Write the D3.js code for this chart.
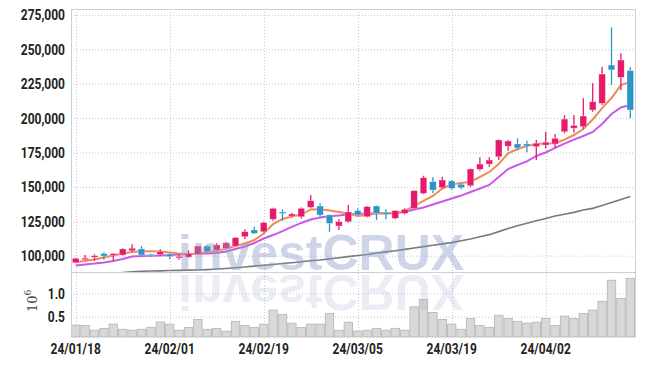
<!DOCTYPE html>
<html><head><meta charset="utf-8">
<script src="https://cdn.jsdelivr.net/npm/d3@7"></script>
<style>body{margin:0;background:#fff}svg{display:block}</style>
</head><body><svg id="c" width="645" height="366"></svg>
<script>
const dates = ["2024-01-18","2024-01-19","2024-01-22","2024-01-23","2024-01-24","2024-01-25","2024-01-26","2024-01-29","2024-01-30","2024-01-31",
"2024-02-01","2024-02-02","2024-02-05","2024-02-06","2024-02-07","2024-02-08","2024-02-13","2024-02-14","2024-02-15","2024-02-16",
"2024-02-19","2024-02-20","2024-02-21","2024-02-22","2024-02-23","2024-02-26","2024-02-27","2024-02-28","2024-02-29","2024-03-04",
"2024-03-05","2024-03-06","2024-03-07","2024-03-08","2024-03-11","2024-03-12","2024-03-13","2024-03-14","2024-03-15","2024-03-18",
"2024-03-19","2024-03-20","2024-03-21","2024-03-22","2024-03-25","2024-03-26","2024-03-27","2024-03-28","2024-03-29","2024-04-01",
"2024-04-02","2024-04-03","2024-04-04","2024-04-05","2024-04-08","2024-04-09","2024-04-11","2024-04-12","2024-04-15","2024-04-16"];
const open  = [94900,97200,99300,101500,100500,100500,103600,104900,101000,100700,101200,98800,99000,101000,107000,104100,105400,107000,113800,118700,117400,126500,131800,128800,128300,135200,136100,129600,121600,124700,132700,128300,136100,131200,127200,130800,134400,145300,153800,149400,154300,151900,150900,162800,166600,171900,179600,181200,181200,179200,180400,181200,190100,192700,193800,205900,210700,238600,229600,234500];
const high  = [98500,100500,101000,102500,102000,105500,108300,107000,101500,104700,101800,101000,103900,107500,107500,109000,110200,113500,119200,121100,124500,134800,133700,131200,135000,144100,138100,130000,126500,136800,134400,136100,136500,133700,133000,134400,147500,158100,157000,157400,155000,152500,163300,171500,171500,184500,184100,185300,183600,184100,190100,188400,202200,202200,214400,225300,237300,266000,247100,236900];
const low   = [94500,96800,96500,97100,96200,100000,103000,99500,99000,100000,97400,97000,98500,100500,102500,103500,105000,106500,112100,115800,117000,125400,125400,128000,127000,134500,128500,117400,118700,124000,129000,127800,125900,126500,126500,130000,133700,144600,145300,148700,148000,148300,150000,161800,164700,169500,176300,176800,175100,169500,178000,178000,189000,189400,191900,204600,209500,224000,220400,199800];
const close = [98100,98200,100000,99800,101500,104900,105400,100500,100000,102900,99300,99500,101700,107000,102900,107800,109400,113100,117400,116300,124000,134400,130800,130300,134400,140000,129600,123500,124700,131800,129600,135600,130800,130100,132700,133700,147200,156700,147700,155000,149000,149400,163000,166600,169500,184100,183300,178300,179700,181700,182400,185300,199300,194700,201500,211900,232000,235000,242200,205900];
const volume = [320000,310000,210000,250000,340000,230000,210000,230000,270000,385000,340000,210000,270000,440000,230000,250000,190000,400000,310000,270000,340000,640000,550000,360000,270000,340000,340000,570000,210000,380000,190000,210000,250000,210000,250000,210000,710000,870000,590000,440000,340000,230000,460000,310000,270000,530000,460000,400000,360000,380000,460000,310000,510000,460000,570000,640000,830000,1280000,890000,1320000];
const ma5  = [95400,96100,97200,98700,100100,101600,102700,103200,103200,103000,102300,101600,101200,101600,102700,103400,105200,107000,108900,111400,116100,123000,126700,128500,129900,133600,133700,132800,131800,130700,128800,129600,130700,130800,130800,132500,136100,139800,143400,148800,151700,152800,153800,157200,160800,166600,174400,177500,179700,181200,181500,181700,184400,187700,192100,199000,207300,214600,224000,226200];
const ma20 = [92900,93600,94300,95100,96100,97600,99400,99800,100000,100100,100500,100900,101100,101400,101600,102000,103100,104900,106700,109200,112500,115000,117900,120900,123800,126300,127800,128600,129200,129900,130300,130700,130800,130800,130800,131800,133600,135000,137200,139400,141600,143700,146300,148800,151400,157200,163000,165900,168500,172500,175000,178300,181500,184400,187000,189900,195700,203000,207700,209500];
const ma60 = [85200,85700,86200,86700,87200,87700,88300,88700,88900,89000,89200,89300,89500,89600,89900,90300,90700,91200,91800,92400,93000,93600,94300,94900,95600,96300,96900,97700,98500,99300,100100,100900,101900,102800,103600,104600,105600,106600,107600,108600,109500,110800,112100,113700,115300,117500,119800,121800,123600,125400,127100,128800,130100,131500,133200,134400,136500,138700,140800,143000];
const priceTicks = [100000,125000,150000,175000,200000,225000,250000,275000];
const volumeTicks = [500000,1000000];
const xTickDates = ["2024-01-18","2024-02-01","2024-02-19","2024-03-05","2024-03-19","2024-04-02"];

const svg = d3.select("#c");
const L = 71, R = 635, T = 9, SEP = 272, B = 337;
const x = d3.scaleBand().domain(dates).range([L, R]).padding(0);
const bw = x.bandwidth();
const cx = d => x(d) + bw / 2;
const y = d3.scaleLinear().domain([88150, 279290]).range([SEP, T]);
const yv = d3.scaleLinear().domain([64000, 1456000]).range([B, SEP]);
const UP = "#e61a6b", DOWN = "#2d94c6";
const gridC = "#c3c7d6";

svg.append("defs").append("clipPath").attr("id","pc")
  .append("rect").attr("x",L).attr("y",T).attr("width",R-L).attr("height",SEP-T);

// grid
const g = svg.append("g");
g.selectAll(".hg").data(priceTicks).join("line")
  .attr("x1",L).attr("x2",R).attr("y1",d=>y(d)+0.5).attr("y2",d=>y(d)+0.5)
  .attr("stroke",gridC).attr("stroke-dasharray","1,2");
g.selectAll(".vg").data(volumeTicks).join("line")
  .attr("x1",L).attr("x2",R).attr("y1",d=>yv(d)+0.5).attr("y2",d=>yv(d)+0.5)
  .attr("stroke",gridC).attr("stroke-dasharray","1,2");
g.selectAll(".xg").data(xTickDates).join("line")
  .attr("x1",d=>Math.round(cx(d))+0.5).attr("x2",d=>Math.round(cx(d))+0.5).attr("y1",T).attr("y2",B)
  .attr("stroke",gridC).attr("stroke-dasharray","1,2");

// volume bars
svg.append("g").selectAll("rect").data(dates).join("rect")
  .attr("x",d=>x(d)+0.5).attr("width",bw-1)
  .attr("y",(d,i)=>yv(volume[i])).attr("height",(d,i)=>B-yv(volume[i]))
  .attr("fill","#d8d8d8").attr("stroke","#b4b4b4").attr("stroke-width",0.8);

// MAs
const pg = svg.append("g").attr("clip-path","url(#pc)");
const line = arr => d3.line().x((d,i)=>cx(dates[i])).y(d=>y(d))(arr);
pg.append("path").attr("d",line(ma60)).attr("fill","none").attr("stroke","#7a7a7a").attr("stroke-width",1.6);
pg.append("path").attr("d",line(ma20)).attr("fill","none").attr("stroke","#c95ae6").attr("stroke-width",2);
pg.append("path").attr("d",line(ma5)).attr("fill","none").attr("stroke","#ee8a55").attr("stroke-width",2);

// candles
const cg = pg.append("g");
dates.forEach((d,i)=>{
  const col = close[i] >= open[i] ? UP : DOWN;
  const xc = cx(d);
  cg.append("line").attr("x1",xc).attr("x2",xc).attr("y1",y(high[i])).attr("y2",y(low[i]))
    .attr("stroke",col).attr("stroke-width",1.3);
  const top = y(Math.max(open[i],close[i])), bot = y(Math.min(open[i],close[i]));
  cg.append("rect").attr("x",xc-3.3).attr("width",6.6).attr("y",top).attr("height",Math.max(1.5,bot-top))
    .attr("fill",col).attr("stroke","rgba(255,255,255,0.5)").attr("stroke-width",0.6);
});

// watermark (reflection clipped to below the separator)
svg.select("defs").append("clipPath").attr("id","rc")
  .append("rect").attr("x",0).attr("y",SEP+1).attr("width",645).attr("height",60);
const wm = svg.append("g").attr("font-family","Liberation Sans, Arial, sans-serif").attr("font-weight","bold").attr("font-size",50);
wm.append("text").attr("x",178).attr("y",270).text("investCRUX").attr("fill","rgba(140,155,200,0.42)");
wm.append("g").attr("clip-path","url(#rc)").append("text").attr("x",178).attr("y",-275).attr("transform","scale(1,-1)")
  .text("investCRUX").attr("fill","rgba(150,160,200,0.2)");

// frame
const fr = svg.append("g").attr("stroke","#cfcfcf").attr("fill","none");
fr.append("line").attr("x1",L).attr("x2",R).attr("y1",T+0.5).attr("y2",T+0.5);
fr.append("line").attr("x1",L).attr("x2",R).attr("y1",SEP+0.5).attr("y2",SEP+0.5);
fr.append("line").attr("x1",L+0.5).attr("x2",L+0.5).attr("y1",T).attr("y2",B);
fr.append("line").attr("x1",R+0.5).attr("x2",R+0.5).attr("y1",T).attr("y2",B);

// labels
const lab = (gsel, tx, ty, txt, anchor) => gsel.append("g").attr("transform",`translate(${tx},${ty}) scale(0.8,1)`)
  .append("text").attr("text-anchor",anchor).attr("dy","0.36em").text(txt);
const lg = svg.append("g").attr("font-family","Roboto, sans-serif").attr("font-weight","bold").attr("font-size",15).attr("fill","#222");
const fmt = d3.format(",");
priceTicks.forEach(p=>lab(lg, 65, y(p), fmt(p), "end"));
volumeTicks.forEach(v=>lab(lg, 65, yv(v), d3.format(".1f")(v/1e6), "end"));
const fx = d => d.slice(2).replace(/-/g,"/");
xTickDates.forEach(d=>lab(lg, cx(d), 349, fx(d), "middle"));

// volume unit
const vt = svg.append("text").attr("transform","translate(37,312) rotate(-90)")
  .attr("font-family","DejaVu Serif, serif").attr("font-size",13).attr("fill","#444");
vt.append("tspan").text("10");
vt.append("tspan").attr("font-size",9).attr("dy",-6).text("6");
</script></body></html>
